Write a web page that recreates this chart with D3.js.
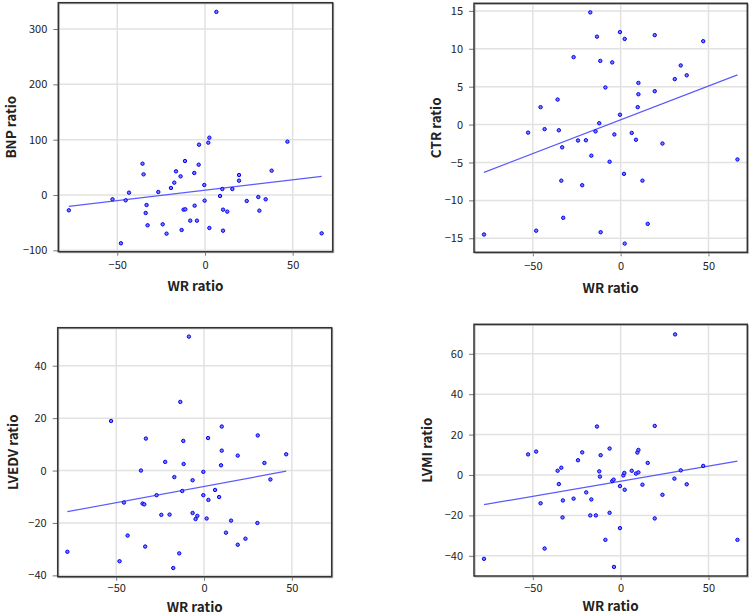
<!DOCTYPE html>
<html><head><meta charset="utf-8">
<script src="https://cdn.jsdelivr.net/npm/d3@7"></script>
<style>body{margin:0;background:#fff}svg{display:block}</style>
</head><body>
<svg id="c" width="750" height="615"></svg>
<script>
// ---- data ----
const bnpWR = [-77.6,-52.7,-47.9,-45.2,-43.3,-35.6,-35.0,-33.3,-33.8,-32.7,-26.6,-24.1,-21.9,-19.4,-17.5,-16.5,-13.9,-13.3,-12.2,-11.2,-11.4,-8.4,-6.1,-5.9,-4.6,-3.6,-3.4,-0.4,-0.2,1.9,2.5,2.5,6.5,8.6,9.9,10.3,10.3,12.7,15.6,19.4,19.4,23.8,30.4,31.0,34.6,38.0,47.0,66.5];
const bnpRatio = [-27.7,-7.8,-87.3,-9.6,4.2,56.6,37.3,-18.1,-32.5,-54.8,5.4,-53,-69.9,12.7,22.3,42.8,33.7,-63.3,-26.5,-25.9,61.4,-46.4,39.8,-19.3,-46.4,54.8,91,18.1,-10.2,94.6,103.6,-59.6,331,-1.8,10.8,-26.5,-64.5,-30.1,10.8,36.1,25.9,-10.8,-3.6,-28.3,-7.8,44,96.4,-69.3];
const bnpFit = [[-77.6,-20.5],[66.5,33.7]];

const ctrWR = [-77.8,-52.7,-48.1,-45.6,-43.3,-35.9,-35.2,-33.3,-33.8,-32.7,-26.8,-24.3,-21.9,-19.8,-17.3,-16.7,-14.3,-13.5,-12.2,-11.6,-11.4,-8.7,-6.3,-4.8,-3.6,-0.4,-0.4,1.9,2.3,2.3,6.3,8.7,9.7,10.1,10.1,12.4,15.4,19.4,19.4,23.8,30.8,34.2,37.6,47.0,66.5];
const ctrRatio = [-14.5,-1.06,-14.0,2.3,-0.6,3.3,-0.75,-3.0,-7.4,-12.3,8.9,-2.1,-8.0,-2.07,14.8,-4.1,-0.9,11.6,0.18,8.4,-14.2,4.9,-4.9,8.2,-1.3,12.2,1.3,-6.5,11.3,-15.7,-1.1,-2.0,2.3,5.5,4.0,-7.4,-13.1,11.8,4.4,-2.5,6.0,7.8,6.5,11.0,-4.6];
const ctrFit = [[-77.8,-6.3],[66.5,6.55]];

const lvedvWR = [-77.8,-52.9,-48.1,-45.6,-43.5,-35.9,-35.0,-34.0,-33.1,-33.5,-27.0,-24.3,-22.1,-19.6,-17.5,-16.9,-14.1,-13.5,-12.4,-11.8,-11.6,-8.6,-6.5,-6.5,-4.8,-3.8,-0.4,-0.4,1.5,2.3,2.5,6.3,8.6,9.7,10.1,10.1,12.5,15.4,19.2,19.2,23.6,30.4,30.6,34.4,37.8,46.8];
const lvedvRatio = [-31.0,18.9,-34.6,-12.2,-24.8,0,-12.6,-12.9,12.2,-29.0,-9.4,-16.9,3.3,-16.8,-37.2,-2.5,-31.6,26.2,-7.8,11.3,2.5,51.1,-3.7,-16.2,-18.5,-17.3,-0.5,-9.4,-18.3,12.4,-11.2,-7.4,-10.1,2.0,16.8,7.6,-23.7,-19.1,5.7,-28.3,-26.0,-20.0,13.4,2.9,-3.4,6.2];
const lvedvFit = [[-77.8,-15.7],[46.8,-0.25]];

const lvmiWR = [-77.8,-52.7,-48.1,-45.6,-43.3,-35.9,-35.2,-33.8,-33.1,-32.9,-26.8,-24.3,-21.9,-19.6,-17.3,-16.7,-14.1,-13.5,-12.2,-11.8,-11.4,-8.7,-6.3,-6.3,-4.8,-4.0,-3.8,-0.4,-0.4,1.5,2.1,2.3,6.3,8.7,9.5,10.1,10.1,12.4,15.4,19.4,19.4,23.8,30.6,31.0,34.2,37.6,47.0,66.5];
const lvmiRatio = [-41.5,10.2,11.6,-14.0,-36.4,2.1,-4.5,3.6,-21.0,-12.6,-11.7,7.3,11.2,-8.6,-20.0,-12.1,-20.0,24.0,1.8,-0.8,9.8,-32.1,13.1,-18.7,-3.0,-2.3,-45.5,-5.5,-26.3,-0.2,1.0,-7.3,2.1,0.7,11.1,12.4,1.3,-4.8,6.0,24.3,-21.5,-9.8,-1.8,69.6,2.3,-4.6,4.5,-32.1];
const lvmiFit = [[-77.8,-14.7],[66.5,6.9]];

const xTicks = [-50, 0, 50];
const bnpTicks = [-100, 0, 100, 200, 300];
const ctrTicks = [-15, -10, -5, 0, 5, 10, 15];
const lvedvTicks = [-40, -20, 0, 20, 40];
const lvmiTicks = [-40, -20, 0, 20, 40, 60];
const xTitle = "WR ratio";

// ---- layout ----
const panels = [
  {x: bnpWR, y: bnpRatio, fit: bnpFit, yTicks: bnpTicks, yTitle: "BNP ratio",
   box: [58.3, 332.7, 2.7, 251.7], xDom: [-83.6, 72.8], yDom: [-102.5, 347.6], yTitleX: 11, xTitleY: 286, xPad: 6},
  {x: ctrWR, y: ctrRatio, fit: ctrFit, yTicks: ctrTicks, yTitle: "CTR ratio",
   box: [474, 747.3, 3.3, 252.3], xDom: [-83.5, 72.1], yDom: [-16.85, 16.0], yTitleX: 436, xTitleY: 288.5, xPad: 6},
  {x: lvedvWR, y: lvedvRatio, fit: lvedvFit, yTicks: lvedvTicks, yTitle: "LVEDV ratio",
   box: [57.7, 331.7, 327.7, 576.7], xDom: [-83.3, 72.7], yDom: [-40.5, 54.5], yTitleX: 13, xTitleY: 607, xPad: 4},
  {x: lvmiWR, y: lvmiRatio, fit: lvmiFit, yTicks: lvmiTicks, yTitle: "LVMI ratio",
   box: [474, 747.3, 324.3, 576], xDom: [-83.5, 72.1], yDom: [-50, 74.6], yTitleX: 427, xTitleY: 606.5, xPad: 4}
];

const svg = d3.select("#c");
const FONT = "'Noto Sans CJK JP', 'Noto Sans', sans-serif";

panels.forEach(p => {
  const [l, r, t, b] = p.box;
  const xs = d3.scaleLinear().domain(p.xDom).range([l, r]);
  const ys = d3.scaleLinear().domain(p.yDom).range([b, t]);
  const g = svg.append("g");

  // grid
  g.selectAll(".gx").data(xTicks).join("line")
    .attr("x1", d => xs(d)).attr("x2", d => xs(d)).attr("y1", t).attr("y2", b)
    .attr("stroke", "#e2e2e2").attr("stroke-width", 1.5);
  g.selectAll(".gy").data(p.yTicks).join("line")
    .attr("y1", d => ys(d)).attr("y2", d => ys(d)).attr("x1", l).attr("x2", r)
    .attr("stroke", "#e2e2e2").attr("stroke-width", 1.5);

  // axes
  const xa = g.append("g").attr("transform", `translate(0,${b})`)
    .call(d3.axisBottom(xs).tickValues(xTicks).tickSize(4).tickPadding(p.xPad).tickFormat(d3.format("d")));
  const ya = g.append("g").attr("transform", `translate(${l},0)`)
    .call(d3.axisLeft(ys).tickValues(p.yTicks).tickSize(5).tickPadding(6).tickFormat(d3.format("d")));
  [xa, ya].forEach(a => {
    a.select(".domain").remove();
    a.selectAll(".tick line").attr("stroke", "#777");
    a.selectAll("text").attr("font-family", FONT).attr("font-size", 11).attr("fill", "#222");
  });

  // frame
  g.append("rect").attr("x", l + 1).attr("y", t + 1).attr("width", r - l).attr("height", b - t)
    .attr("fill", "none").attr("stroke", "#aaa").attr("stroke-width", 1);
  g.append("rect").attr("x", l).attr("y", t).attr("width", r - l).attr("height", b - t)
    .attr("fill", "none").attr("stroke", "#333").attr("stroke-width", 1.5);

  // fit line
  g.append("line")
    .attr("x1", xs(p.fit[0][0])).attr("y1", ys(p.fit[0][1]))
    .attr("x2", xs(p.fit[1][0])).attr("y2", ys(p.fit[1][1]))
    .attr("stroke", "#5a5aff").attr("stroke-width", 1.2);

  // points
  g.selectAll(".pt").data(p.x.map((v, i) => [v, p.y[i]])).join("circle")
    .attr("cx", d => xs(d[0])).attr("cy", d => ys(d[1])).attr("r", 1.7)
    .attr("fill", "#7a7aff").attr("stroke", "#0000f0").attr("stroke-width", 1);

  // titles
  g.append("text").attr("x", (l + r) / 2).attr("y", p.xTitleY).attr("dy", "0.35em")
    .attr("text-anchor", "middle").attr("font-family", FONT).attr("font-weight", "bold")
    .attr("font-size", 13.5).attr("fill", "#222").text(xTitle);
  g.append("text").attr("transform", `translate(${p.yTitleX},${(t + b) / 2}) rotate(-90)`)
    .attr("dy", "0.35em").attr("text-anchor", "middle").attr("font-family", FONT)
    .attr("font-weight", "bold").attr("font-size", 13.5).attr("fill", "#222").text(p.yTitle);
});
</script>
</body></html>
